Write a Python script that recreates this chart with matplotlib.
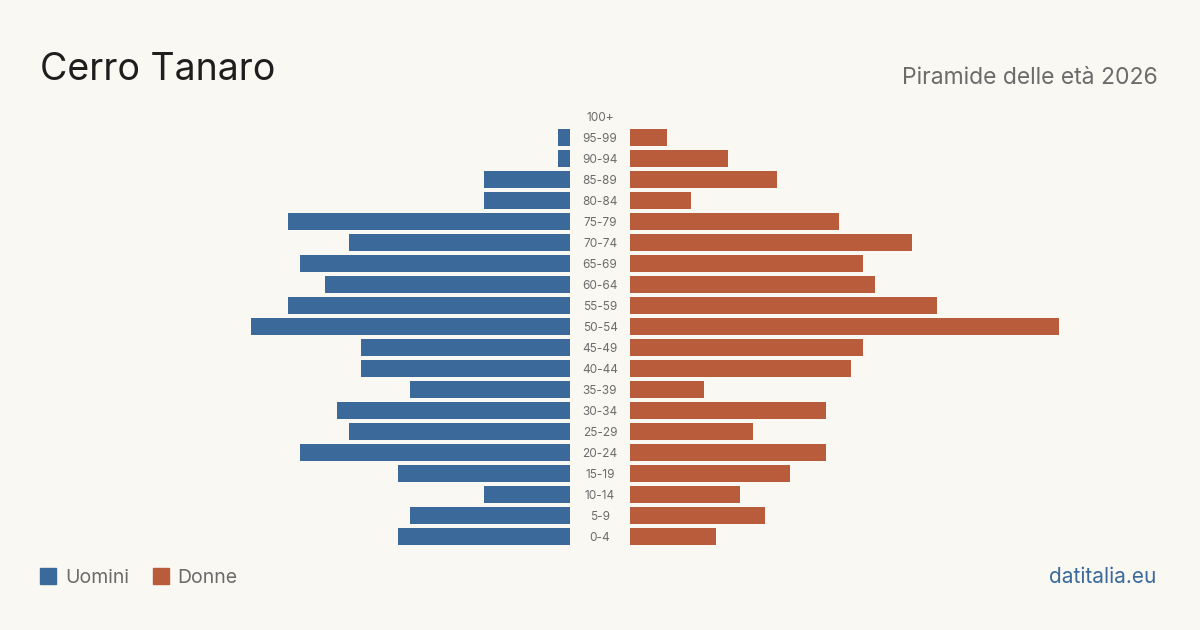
import numpy as np
import matplotlib.pyplot as plt

# Dati: piramide delle età, Cerro Tanaro 2026
eta = ["0-4", "5-9", "10-14", "15-19", "20-24", "25-29", "30-34", "35-39",
       "40-44", "45-49", "50-54", "55-59", "60-64", "65-69", "70-74",
       "75-79", "80-84", "85-89", "90-94", "95-99", "100+"]
uomini = [14, 13, 7, 14, 22, 18, 19, 13, 17, 17, 26, 23, 20, 22, 18, 23, 7, 7, 1, 1, 0]
donne = [7, 11, 9, 13, 16, 10, 16, 6, 18, 19, 35, 25, 20, 19, 23, 17, 5, 12, 8, 3, 0]

sfondo = "#f9f8f3"
blu = "#3b6a9a"
arancio = "#b85c3c"
grigio = "#6b6b6b"

plt.rcParams["font.family"] = ["Inter", "DejaVu Sans"]

fig = plt.figure(figsize=(12, 6.3), dpi=100, facecolor=sfondo)

W, H = 1200, 630
bottom = (H - 547) / H
height = 441 / H
ax_l = fig.add_axes([40 / W, bottom, 530 / W, height])
ax_r = fig.add_axes([630 / W, bottom, 530 / W, height])

y = np.arange(len(eta))
xmax = 530 / 12.27

ax_l.barh(y, uomini, height=0.81, color=blu)
ax_r.barh(y, donne, height=0.81, color=arancio)

for ax in (ax_l, ax_r):
    ax.set_facecolor("none")
    ax.set_xlim(0, xmax)
    ax.set_ylim(-0.5, len(eta) - 0.5)
    ax.set_xticks([])
    for s in ax.spines.values():
        s.set_visible(False)
ax_l.invert_xaxis()
ax_l.set_yticks([])

# etichette delle classi d'età al centro
ax_r.set_yticks(y)
ax_r.set_yticklabels(eta, fontsize=8.5, color=grigio)
ax_r.tick_params(axis="y", length=0, pad=21.6)
for lab in ax_r.get_yticklabels():
    lab.set_horizontalalignment("center")

# Titoli
fig.text(40 / W, 1 - 80 / H, "Cerro Tanaro", fontsize=27, color="#1e1e1e",
         ha="left", va="baseline")
fig.text(1158 / W, 1 - 84 / H, "Piramide delle età 2026", fontsize=16.5,
         color=grigio, ha="right", va="baseline")

# Legenda
fig.patches.append(plt.Rectangle((40 / W, 1 - 584 / H), 16 / W, 16 / H,
                                 transform=fig.transFigure, color=blu))
fig.text(65 / W, 1 - 583 / H, "Uomini", fontsize=14, color=grigio,
         ha="left", va="baseline")
fig.patches.append(plt.Rectangle((153 / W, 1 - 584 / H), 16 / W, 16 / H,
                                 transform=fig.transFigure, color=arancio))
fig.text(177 / W, 1 - 583 / H, "Donne", fontsize=14, color=grigio,
         ha="left", va="baseline")

fig.text(1156 / W, 1 - 583 / H, "datitalia.eu", fontsize=15, color=blu,
         ha="right", va="baseline")

fig.savefig("out.png", dpi=100, facecolor=sfondo)
